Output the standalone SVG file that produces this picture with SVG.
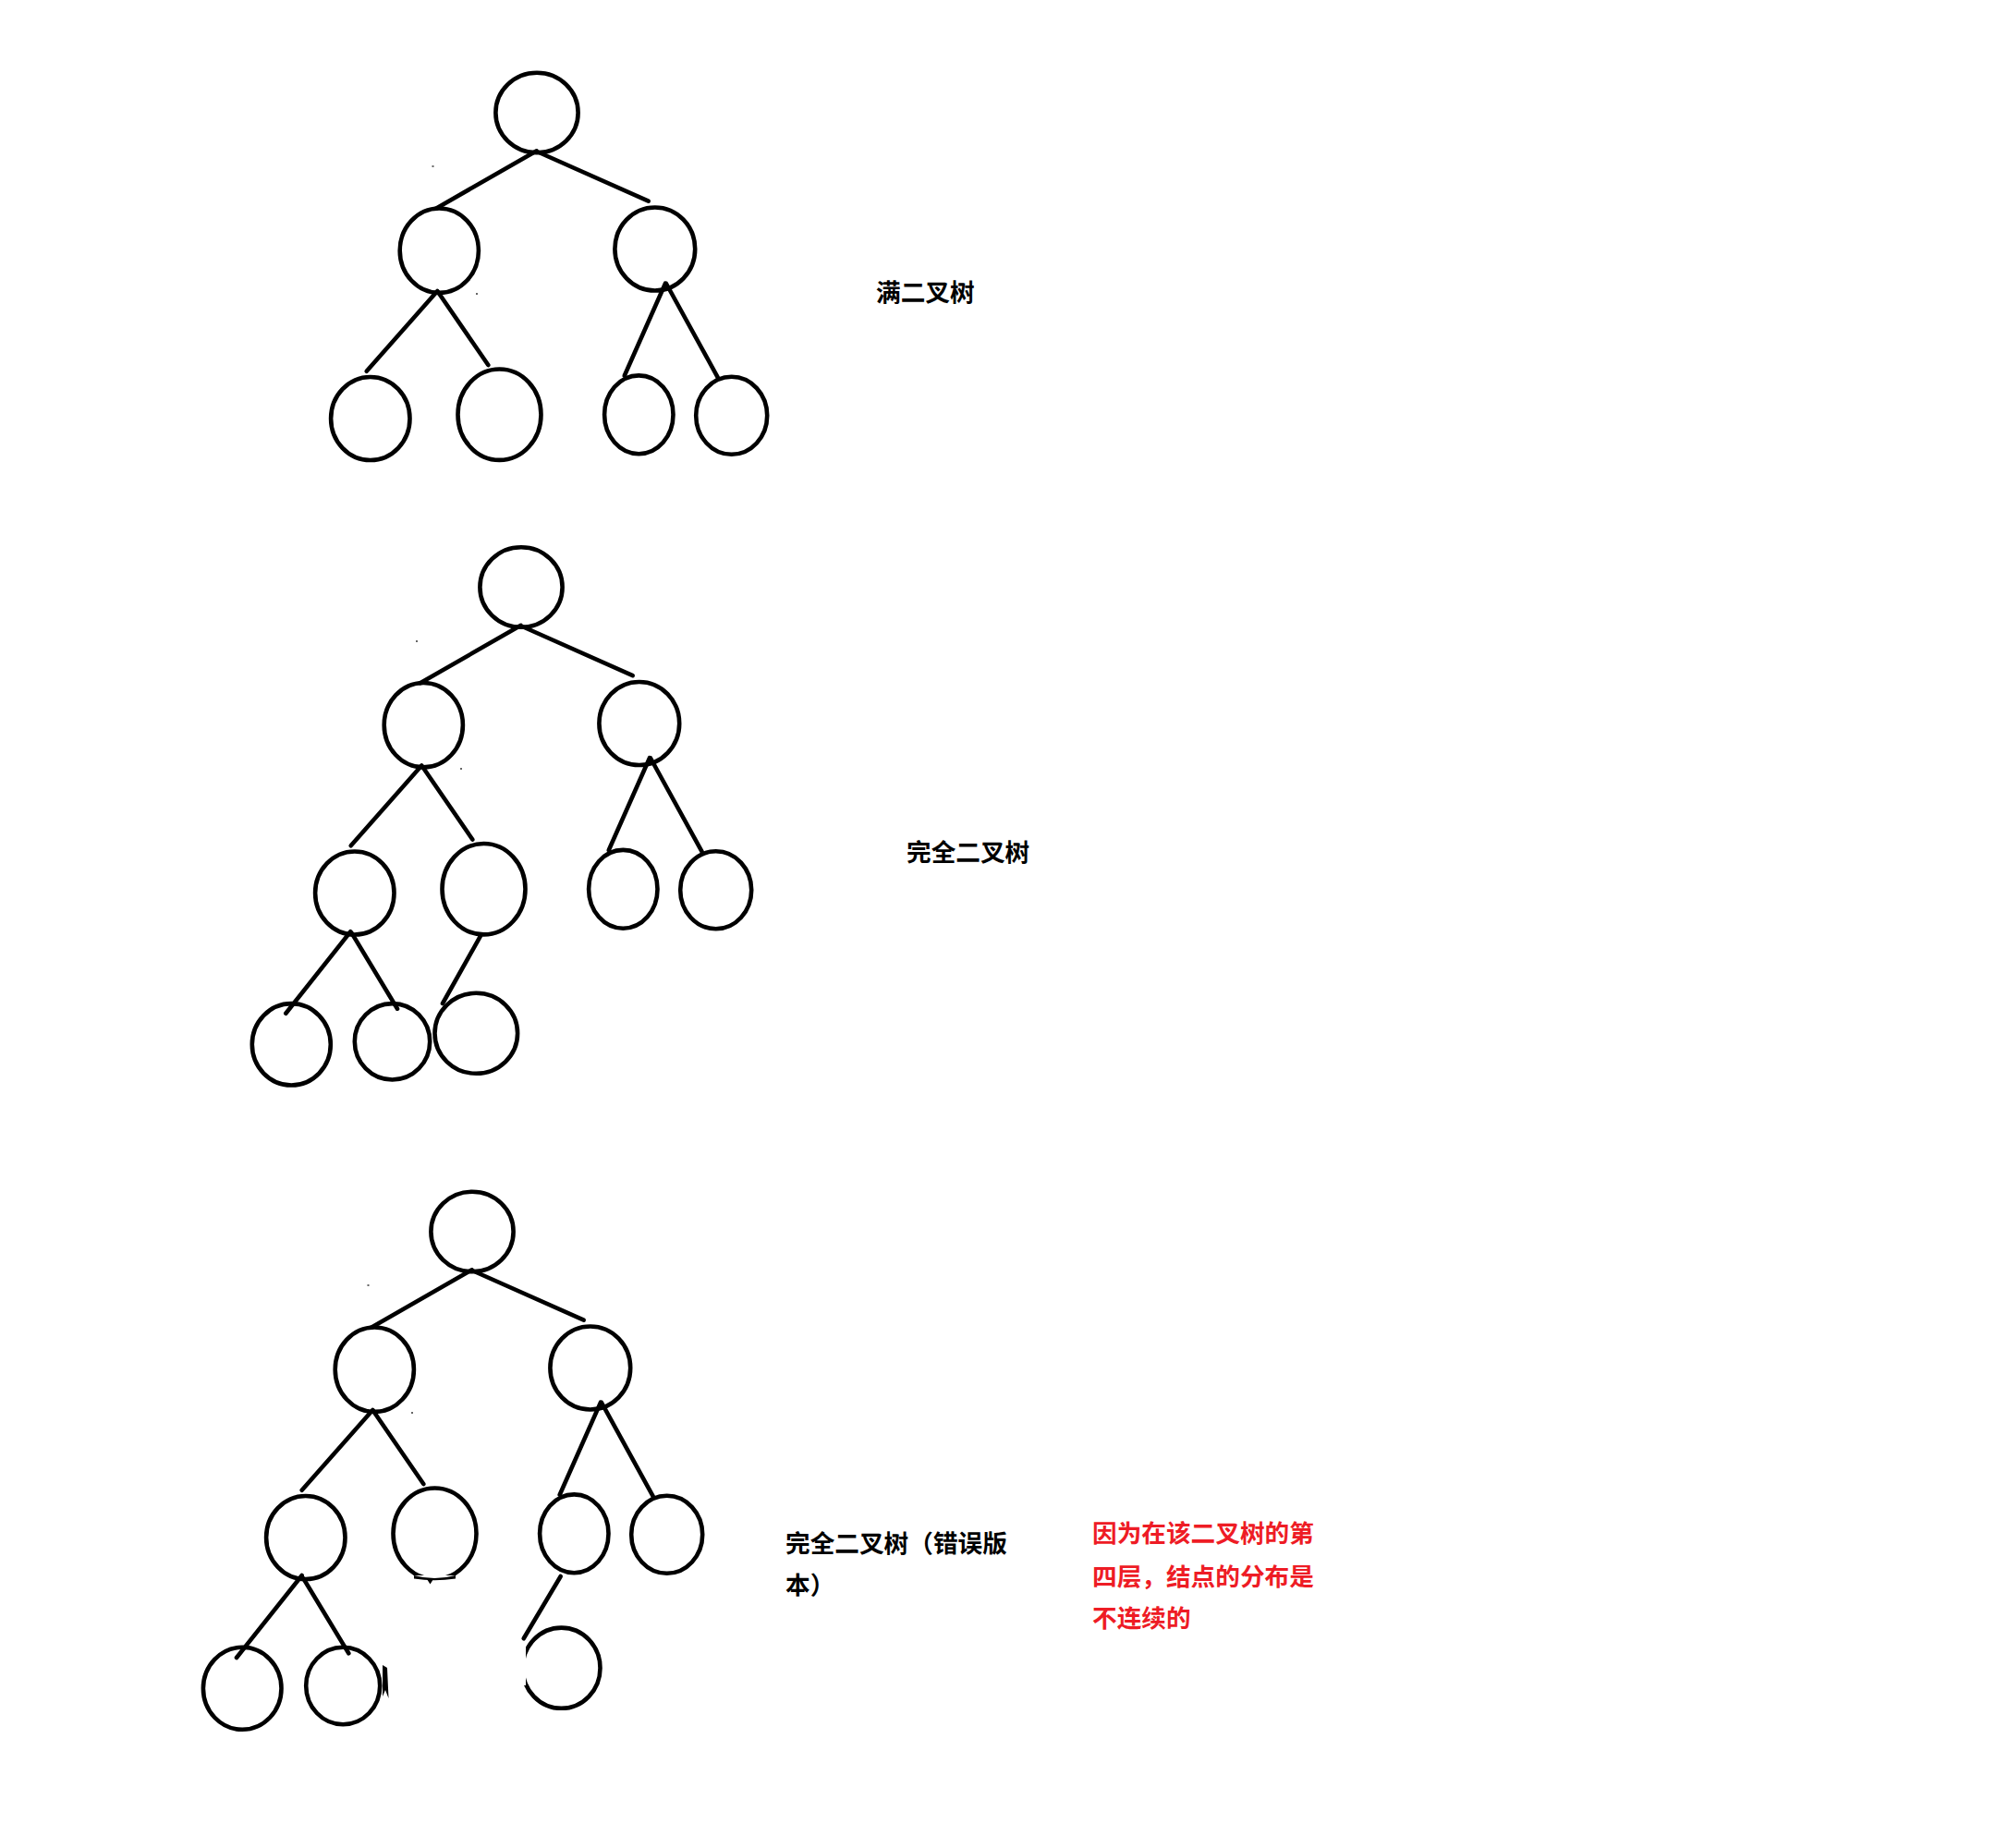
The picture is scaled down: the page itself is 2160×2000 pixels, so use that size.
<svg xmlns="http://www.w3.org/2000/svg" width="2160" height="2000" viewBox="0 0 2160 2000">
  <style>
    .node { fill: none; stroke: #000; stroke-width: 4.6; }
    .edge { stroke: #000; stroke-width: 4.6; stroke-linecap: round; fill: none; }
    .speck { fill: #666; }
    .label { font-family: "Noto Sans CJK SC", "Noto Sans", sans-serif; font-weight: 700; font-size: 26.67px; fill: #000; }
    .note { fill: #ee1c25; }
  </style>
  <defs>
    <!-- upper part of the partly erased node in the lower right tree -->
    <clipPath id="cut-lr">
      <rect x="400" y="1590" width="140" height="115"/>
    </clipPath>
    <!-- left side of the bottom node is rubbed out -->
    <clipPath id="cut-c">
      <rect x="569" y="1740" width="120" height="140"/>
      <rect x="540" y="1740" width="150" height="36"/>
      <rect x="540" y="1824" width="150" height="60"/>
    </clipPath>
  </defs>

  <rect width="2160" height="2000" fill="#fff"/>

  <!-- ===== Tree 1: full binary tree ===== -->
  <g id="tree-full">
    <g id="connectors-full">
      <line class="edge" x1="580.7" y1="163.3" x2="471.7" y2="225.7"/>
      <line class="edge" x1="583.3" y1="165" x2="701.7" y2="217.7"/>
      <line class="edge" x1="473.3" y1="315" x2="396.7" y2="401.7"/>
      <line class="edge" x1="474" y1="316" x2="528.3" y2="395"/>
      <line class="edge" x1="720" y1="306.7" x2="675.7" y2="406.7"/>
      <line class="edge" x1="721" y1="307" x2="776.7" y2="408.3"/>
    </g>
    <g id="full-root"><ellipse class="node" cx="581" cy="122" rx="44.6" ry="43.2"/></g>
    <g id="full-l"><ellipse class="node" cx="475.3" cy="271.2" rx="42.6" ry="45.7"/></g>
    <g id="full-r"><ellipse class="node" cx="708.8" cy="269.5" rx="43.4" ry="45"/></g>
    <g id="full-ll"><ellipse class="node" cx="400.8" cy="453" rx="42.7" ry="45"/></g>
    <g id="full-lr"><ellipse class="node" cx="540.5" cy="448.7" rx="45" ry="49.2"/></g>
    <g id="full-rl"><ellipse class="node" cx="691.3" cy="448.8" rx="37.2" ry="42.4"/></g>
    <g id="full-rr"><ellipse class="node" cx="791.7" cy="449.8" rx="38.5" ry="42"/></g>
    <rect class="speck" x="467.5" y="179" width="2" height="2"/>
    <rect class="speck" x="515" y="317" width="2" height="2"/>
    <text id="label-full" class="label" x="948" y="325.5">满二叉树</text>
  </g>

  <!-- ===== Tree 2: complete binary tree ===== -->
  <g id="tree-complete">
    <g id="connectors-complete">
      <line class="edge" x1="563.7" y1="676.8" x2="454.7" y2="739.2"/>
      <line class="edge" x1="566.3" y1="678.5" x2="684.7" y2="731.2"/>
      <line class="edge" x1="456.3" y1="828.5" x2="379.7" y2="915.2"/>
      <line class="edge" x1="457" y1="829.5" x2="511.3" y2="908.5"/>
      <line class="edge" x1="703" y1="820.2" x2="658.7" y2="920.2"/>
      <line class="edge" x1="704" y1="820.5" x2="759.7" y2="921.8"/>
      <line class="edge" x1="379.3" y1="1008.3" x2="309.3" y2="1096.7"/>
      <line class="edge" x1="380.7" y1="1010" x2="430" y2="1091.7"/>
      <line class="edge" x1="520.7" y1="1011.7" x2="479" y2="1086"/>
    </g>
    <g id="complete-root"><ellipse class="node" cx="564" cy="635.5" rx="44.6" ry="43.2"/></g>
    <g id="complete-l"><ellipse class="node" cx="458.3" cy="784.7" rx="42.6" ry="45.7"/></g>
    <g id="complete-r"><ellipse class="node" cx="691.8" cy="783" rx="43.4" ry="45"/></g>
    <g id="complete-ll"><ellipse class="node" cx="383.8" cy="966.5" rx="42.7" ry="45"/></g>
    <g id="complete-lr"><ellipse class="node" cx="523.5" cy="962.2" rx="45" ry="49.2"/></g>
    <g id="complete-rl"><ellipse class="node" cx="674.3" cy="962.3" rx="37.2" ry="42.4"/></g>
    <g id="complete-rr"><ellipse class="node" cx="774.7" cy="963.3" rx="38.5" ry="42"/></g>
    <g id="complete-lll"><ellipse class="node" cx="315.3" cy="1130.3" rx="42.5" ry="44.2"/></g>
    <g id="complete-llr"><ellipse class="node" cx="424.5" cy="1127.3" rx="40.7" ry="41.2"/></g>
    <g id="complete-lrl"><ellipse class="node" cx="515.3" cy="1118.3" rx="44.8" ry="43.5"/></g>
    <rect class="speck" x="450" y="693" width="2" height="2"/>
    <rect class="speck" x="498" y="831" width="2" height="2"/>
    <text id="label-complete" class="label" x="981" y="931.6">完全二叉树</text>
  </g>

  <!-- ===== Tree 3: not a complete binary tree ===== -->
  <g id="tree-wrong">
    <g id="connectors-wrong">
      <line class="edge" x1="510.7" y1="1374.3" x2="401.7" y2="1436.7"/>
      <line class="edge" x1="513.3" y1="1376" x2="631.7" y2="1428.7"/>
      <line class="edge" x1="403.3" y1="1526" x2="326.7" y2="1612.7"/>
      <line class="edge" x1="404" y1="1527" x2="458.3" y2="1606"/>
      <line class="edge" x1="650" y1="1517.7" x2="605.7" y2="1617.7"/>
      <line class="edge" x1="651" y1="1518" x2="706.7" y2="1619.3"/>
      <line class="edge" x1="326.7" y1="1705" x2="256" y2="1794"/>
      <line class="edge" x1="328.3" y1="1708.3" x2="377.3" y2="1789.3"/>
      <line class="edge" x1="606.7" y1="1706" x2="566.7" y2="1773.3"/>
    </g>
    <g id="wrong-root"><ellipse class="node" cx="511" cy="1333" rx="44.6" ry="43.2"/></g>
    <g id="wrong-l"><ellipse class="node" cx="405.3" cy="1482.2" rx="42.6" ry="45.7"/></g>
    <g id="wrong-r"><ellipse class="node" cx="638.8" cy="1480.5" rx="43.4" ry="45"/></g>
    <g id="wrong-ll"><ellipse class="node" cx="330.8" cy="1664" rx="42.7" ry="45"/></g>
    <g id="wrong-lr">
      <ellipse class="node" cx="470.5" cy="1659.7" rx="45" ry="49.2" clip-path="url(#cut-lr)"/>
      <path d="M448 1705 Q470 1711 493 1705 L493 1708.5 Q470 1712 448 1708.5 Z" fill="#000"/>
      <path d="M462 1709 L469 1709 L465.5 1714.5 Z" fill="#000"/>
    </g>
    <g id="wrong-rl"><ellipse class="node" cx="621.3" cy="1659.8" rx="37.2" ry="42.4"/></g>
    <g id="wrong-rr"><ellipse class="node" cx="721.7" cy="1660.8" rx="38.5" ry="42"/></g>
    <g id="wrong-lll"><ellipse class="node" cx="262.2" cy="1827.3" rx="42.3" ry="44.5"/></g>
    <g id="wrong-llr">
      <ellipse class="node" cx="371.2" cy="1824.5" rx="40" ry="41.7"/>
      <path d="M414 1802 L419 1805 L420.5 1838 L417 1829 L414 1836 Z" fill="#000"/>
    </g>
    <g id="wrong-rll"><ellipse class="node" cx="607.5" cy="1805.2" rx="42" ry="43.6" clip-path="url(#cut-c)"/></g>
    <rect class="speck" x="397.5" y="1390" width="2" height="2"/>
    <rect class="speck" x="445" y="1528" width="2" height="2"/>
    <text id="label-wrong" class="label">
      <tspan x="850" y="1679.6">完全二叉树（错误版</tspan>
      <tspan x="850" y="1725">本）</tspan>
    </text>
    <text id="note-wrong" class="label note">
      <tspan x="1182" y="1668.6">因为在该二叉树的第</tspan>
      <tspan x="1182" y="1715.5">四层，结点的分布是</tspan>
      <tspan x="1182" y="1761">不连续的</tspan>
    </text>
  </g>
</svg>
